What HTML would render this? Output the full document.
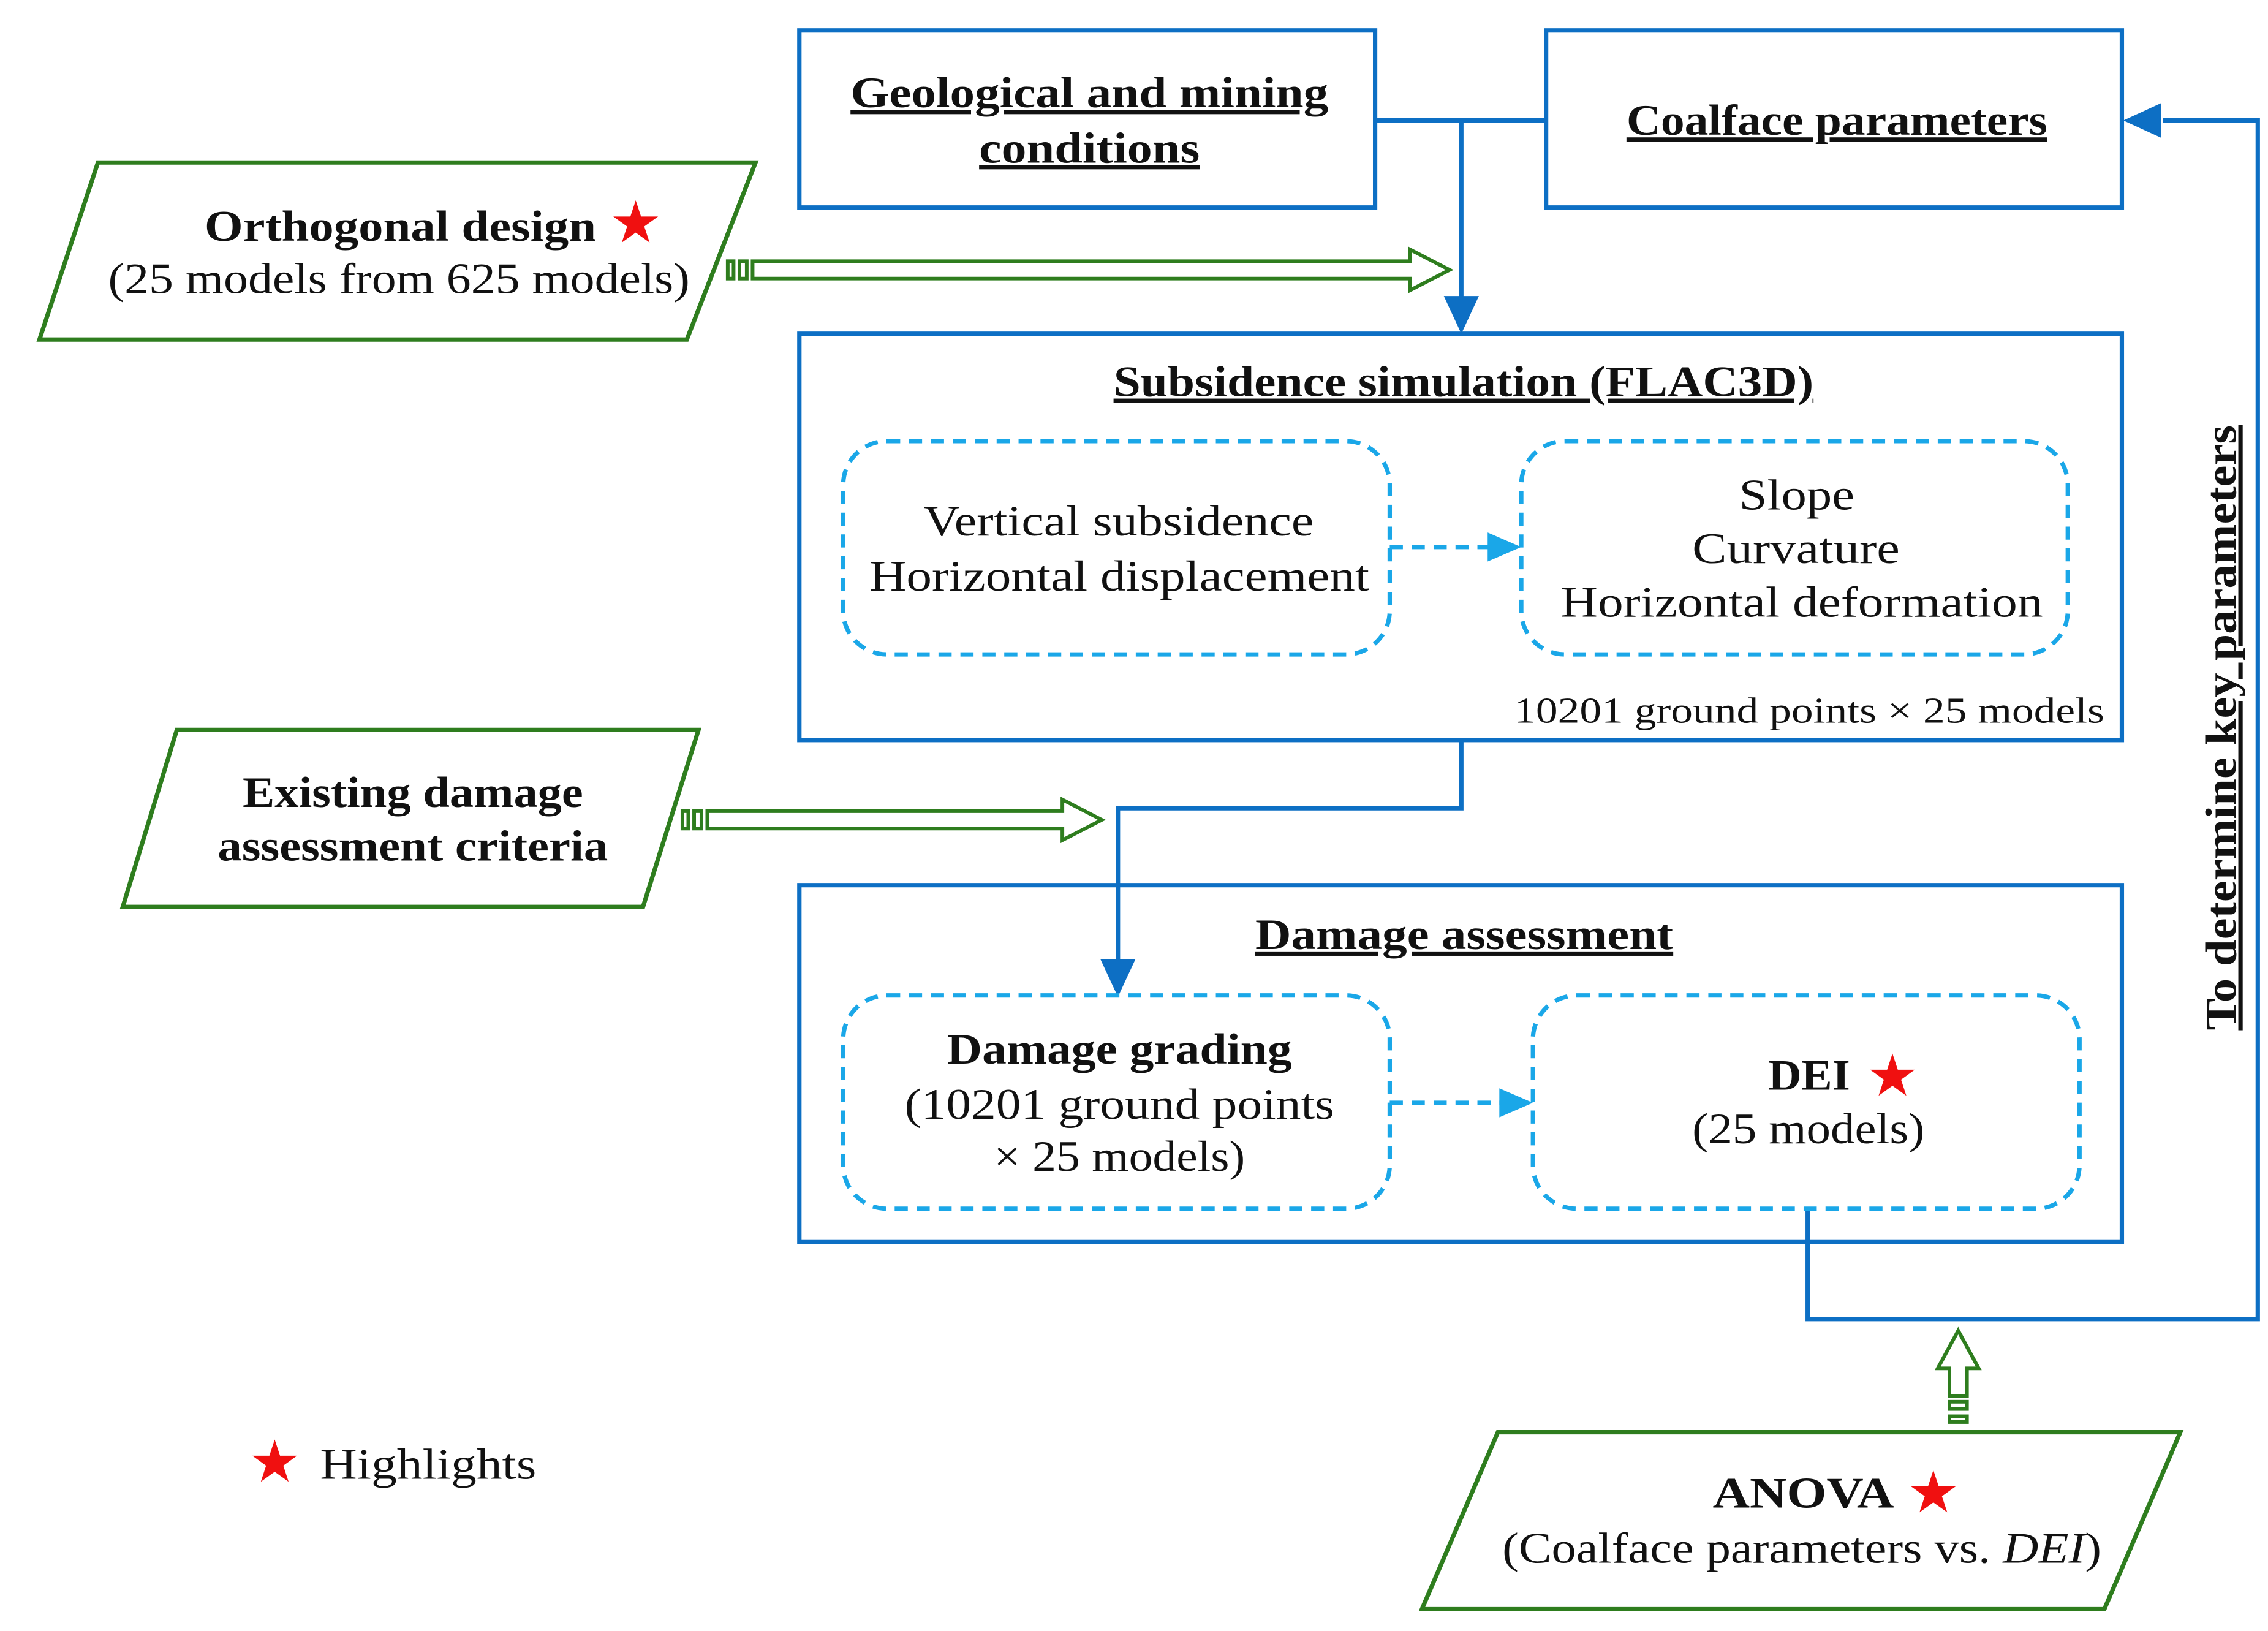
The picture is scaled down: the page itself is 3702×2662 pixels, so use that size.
<!DOCTYPE html>
<html><head><meta charset="utf-8"><style>
html,body{margin:0;padding:0;background:#fff}
svg{display:block}
text{font-family:"Liberation Serif",serif;fill:#111}
.b{font-weight:bold}
.u{text-decoration:underline}
</style></head><body>
<svg width="3702" height="2662" viewBox="0 0 1552 1124" preserveAspectRatio="none" xmlns="http://www.w3.org/2000/svg">
<g fill="none" stroke="#0d6fc4" stroke-width="3">
<rect x="547" y="21" width="394" height="122"/>
<rect x="1058" y="21" width="394" height="122"/>
<rect x="547" y="230" width="905" height="280"/>
<rect x="547" y="610" width="905" height="246"/>
<path d="M941,83 H1058"/>
<path d="M1000,83 V205"/>
<path d="M1000,510 V557 H765 V662"/>
<path d="M1237,833 V909 H1545 V83 H1480"/>
</g>
<g fill="#0d6fc4">
<path d="M988,204 L1012,204 L1000,230 z"/>
<path d="M753,661 L777,661 L765,687 z"/>
<path d="M1479,71 L1479,95 L1453,83 z"/>
</g>
<g fill="none" stroke="#1aa7e8" stroke-width="3" stroke-dasharray="9,6">
<rect x="577" y="304" width="374" height="147" rx="30"/>
<rect x="1041" y="304" width="374" height="147" rx="30"/>
<rect x="577" y="686" width="374" height="147" rx="30"/>
<rect x="1049" y="686" width="374" height="147" rx="30"/>
<path d="M951,377 H1020"/>
<path d="M951,760 H1028"/>
</g>
<g fill="#1aa7e8">
<path d="M1018,367 L1041,377 L1018,387 z"/>
<path d="M1026,750 L1049,760 L1026,770 z"/>
</g>
<g fill="none" stroke="#2e7d1e" stroke-width="3">
<path d="M67,112 L517,112 L470,234 L27,234 z"/>
<path d="M121,503 L478,503 L440,625 L84,625 z"/>
<path d="M1025,987 L1492,987 L1440,1109 L973,1109 z"/>
</g>
<g fill="none" stroke="#2e7d1e" stroke-width="2.5">
<rect x="498" y="180" width="4" height="12"/><rect x="506" y="180" width="5" height="12"/>
<path d="M515,180 H965 V172 L992,186 L965,200 V192 H515 z"/>
<rect x="467" y="559" width="4" height="12"/><rect x="475" y="559" width="5" height="12"/>
<path d="M484,559 H727 V551 L754,565 L727,579 V571 H484 z"/>
<rect x="1334" y="976" width="12" height="4"/><rect x="1334" y="966" width="12" height="5"/>
<path d="M1334,962 V943 H1326 L1340,917 L1354,943 H1346 V962 z"/>
</g>
<g font-size="30" lengthAdjust="spacingAndGlyphs">
<text x="582" y="74" textLength="327" lengthAdjust="spacingAndGlyphs" class="b u">Geological and mining</text>
<text x="670" y="112" textLength="151" lengthAdjust="spacingAndGlyphs" class="b u">conditions</text>
<text x="1113" y="93" textLength="288" lengthAdjust="spacingAndGlyphs" class="b u">Coalface parameters</text>
<text x="140" y="166" textLength="268" lengthAdjust="spacingAndGlyphs" class="b">Orthogonal design</text>
<text x="74" y="202" textLength="398" lengthAdjust="spacingAndGlyphs">(25 models from 625 models)</text>
<text x="762" y="273" textLength="479" lengthAdjust="spacingAndGlyphs" class="b u">Subsidence simulation (FLAC3D)</text>
<text x="632" y="369" textLength="267" lengthAdjust="spacingAndGlyphs">Vertical subsidence</text>
<text x="595" y="407" textLength="342" lengthAdjust="spacingAndGlyphs">Horizontal displacement</text>
<text x="1190" y="351" textLength="79" lengthAdjust="spacingAndGlyphs">Slope</text>
<text x="1158" y="388" textLength="142" lengthAdjust="spacingAndGlyphs">Curvature</text>
<text x="1068" y="425" textLength="330" lengthAdjust="spacingAndGlyphs">Horizontal deformation</text>
<text x="166" y="556" textLength="233" lengthAdjust="spacingAndGlyphs" class="b">Existing damage</text>
<text x="149" y="593" textLength="267" lengthAdjust="spacingAndGlyphs" class="b">assessment criteria</text>
<text x="859" y="654" textLength="286" lengthAdjust="spacingAndGlyphs" class="b u">Damage assessment</text>
<text x="648" y="733" textLength="236" lengthAdjust="spacingAndGlyphs" class="b">Damage grading</text>
<text x="619" y="771" textLength="294" lengthAdjust="spacingAndGlyphs">(10201 ground points</text>
<text x="680" y="807" textLength="172" lengthAdjust="spacingAndGlyphs">× 25 models)</text>
<text x="1210" y="751" textLength="56" lengthAdjust="spacingAndGlyphs" class="b">DEI</text>
<text x="1158" y="788" textLength="159" lengthAdjust="spacingAndGlyphs">(25 models)</text>
<text x="1172" y="1039" textLength="124" lengthAdjust="spacingAndGlyphs" class="b">ANOVA</text>
<text x="1028" y="1077" textLength="410" lengthAdjust="spacingAndGlyphs">(Coalface parameters vs. <tspan font-style="italic">DEI</tspan>)</text>
<text x="219" y="1019" textLength="148" lengthAdjust="spacingAndGlyphs">Highlights</text>
<text transform="translate(1530,710) rotate(-90)" textLength="417" lengthAdjust="spacingAndGlyphs" class="b u">To determine key parameters</text>
</g>
<text x="1036" y="498" textLength="404" lengthAdjust="spacingAndGlyphs" font-size="25">10201 ground points × 25 models</text>
<g font-size="40" font-family="DejaVu Sans,sans-serif">
<text x="435" y="167" text-anchor="middle" style="fill:#f01010;font-family:'DejaVu Sans',sans-serif">★</text>
<text x="1295" y="755" text-anchor="middle" style="fill:#f01010;font-family:'DejaVu Sans',sans-serif">★</text>
<text x="1323" y="1042" text-anchor="middle" style="fill:#f01010;font-family:'DejaVu Sans',sans-serif">★</text>
<text x="188" y="1021" text-anchor="middle" style="fill:#f01010;font-family:'DejaVu Sans',sans-serif">★</text>
</g>
</svg>
</body></html>
